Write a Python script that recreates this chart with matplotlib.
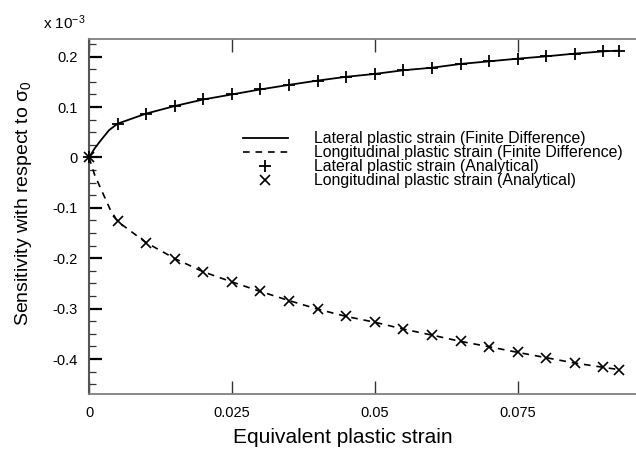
import numpy as np
import matplotlib
matplotlib.use('Agg')
import matplotlib.pyplot as plt
from matplotlib.legend_handler import HandlerLine2D
from matplotlib.ticker import FixedLocator, MultipleLocator, FuncFormatter

plt.rcParams['font.family'] = ['Liberation Sans', 'DejaVu Sans']
plt.rcParams['mathtext.fontset'] = 'custom'
plt.rcParams['mathtext.rm'] = 'Liberation Sans'
plt.rcParams['mathtext.it'] = 'Liberation Sans'
plt.rcParams['mathtext.bf'] = 'Liberation Sans:bold'

# ---- data (values in units of 1e-3) ----
strain_an = [0.0, 0.005, 0.01, 0.015, 0.02, 0.025, 0.03, 0.035, 0.04, 0.045,
             0.05, 0.055, 0.06, 0.065, 0.07, 0.075, 0.08, 0.085, 0.09, 0.0927]
lat_an = [0.0, 0.067, 0.087, 0.102, 0.115, 0.125, 0.135, 0.144, 0.1525, 0.160,
          0.1657, 0.173, 0.178, 0.1855, 0.1907, 0.196, 0.2006, 0.206, 0.2105, 0.212]
lon_an = [0.0, -0.127, -0.169, -0.2006, -0.227, -0.247, -0.266, -0.284, -0.301, -0.3155,
          -0.327, -0.3406, -0.3525, -0.365, -0.3756, -0.3868, -0.3974, -0.408, -0.4165, -0.421]

strain_fd_lat = [0.0, 0.001, 0.002, 0.0035, 0.005, 0.01, 0.015, 0.02, 0.025, 0.03, 0.035,
                 0.04, 0.045, 0.05, 0.055, 0.06, 0.065, 0.07, 0.075, 0.08, 0.085, 0.09, 0.0927]
lat_fd = [0.0, 0.018, 0.033, 0.054, 0.067, 0.087, 0.102, 0.115, 0.125, 0.135, 0.144,
          0.1525, 0.160, 0.1657, 0.173, 0.178, 0.1855, 0.1907, 0.196, 0.2006, 0.206, 0.2105, 0.212]
strain_fd_lon = [0.0, 0.001, 0.0025, 0.0037, 0.005, 0.01, 0.015, 0.02, 0.025, 0.03, 0.035,
                 0.04, 0.045, 0.05, 0.055, 0.06, 0.065, 0.07, 0.075, 0.08, 0.085, 0.09, 0.0927]
lon_fd = [0.0, -0.035, -0.073, -0.103, -0.127, -0.169, -0.2006, -0.227, -0.247, -0.266, -0.284,
          -0.301, -0.3155, -0.327, -0.3406, -0.3525, -0.365, -0.3756, -0.3868, -0.3974, -0.408,
          -0.4165, -0.421]

labels = ['Lateral plastic strain (Finite Difference)',
          'Longitudinal plastic strain (Finite Difference)',
          'Lateral plastic strain (Analytical)',
          'Longitudinal plastic strain (Analytical)']
xticks = [0, 0.025, 0.05, 0.075]
xticklabels = ['0', '0.025', '0.05', '0.075']

W, H = 636, 453
fig = plt.figure(figsize=(W / 100, H / 100), dpi=100)
left, right, top, bottom = 89, 636, 39, 394.3
ax = fig.add_axes([left / W, 1 - bottom / H, (right - left) / W, (bottom - top) / H])

l1, = ax.plot(strain_fd_lat, lat_fd, color='black', lw=1.3, label=labels[0])
l2, = ax.plot(strain_fd_lon, lon_fd, color='black', lw=1.2, linestyle=(0, (4, 3.5)), label=labels[1])
l3, = ax.plot(strain_an, lat_an, linestyle='none', marker='+', ms=9, mew=1.3, color='black',
              label=labels[2], clip_on=False, zorder=4)
l4, = ax.plot(strain_an, lon_an, linestyle='none', marker='x', ms=7.5, mew=1.2, color='black',
              label=labels[3], clip_on=False, zorder=4)

ax.set_xlim(0, 0.0957)
ax.set_ylim(-0.47, 0.235)

ax.xaxis.set_major_locator(FixedLocator(xticks))
ax.set_xticklabels(xticklabels)
ax.yaxis.set_major_locator(MultipleLocator(0.1))
ax.yaxis.set_minor_locator(MultipleLocator(0.025))

def yfmt(v, pos):
    if abs(v) < 1e-9:
        return '0'
    return ('%.1f' % v)
ax.yaxis.set_major_formatter(FuncFormatter(yfmt))

ax.tick_params(axis='x', which='major', direction='in', top=True, bottom=True,
               length=9.4, width=1.0, color='#333333', labelsize=10.5, pad=8.5)
ax.tick_params(axis='y', which='major', direction='in', left=True, right=False,
               length=9.4, width=1.6, color='black', labelsize=10.5, pad=8)
ax.tick_params(axis='y', which='minor', direction='in', left=True, right=False,
               length=5, width=0.9, color='#333333')

ax.spines['right'].set_visible(False)
ax.spines['left'].set_color('#555555')
ax.spines['left'].set_linewidth(1.5)
for s in ('top', 'bottom'):
    ax.spines[s].set_color('#808080')
    ax.spines[s].set_linewidth(1.3)

ax.set_xlabel('Equivalent plastic strain', fontsize=15)
ax.set_ylabel(r'Sensitivity with respect to $\sigma_0$', fontsize=14)
ax.xaxis.set_label_coords(0.4634, -0.095)
ax.yaxis.set_label_coords(-0.1005, 0.537)

fig.text(43 / W, 1 - 29 / H, r'x 10$^{-3}$', fontsize=11, va='baseline', ha='left')


class RightMarkerHandler(HandlerLine2D):
    def get_xdata(self, legend, xdescent, ydescent, width, height, fontsize):
        xdata, _ = super().get_xdata(legend, xdescent, ydescent, width, height, fontsize)
        return xdata, np.array([-xdescent + width])


leg = ax.legend(handles=[l1, l2, l3, l4], loc='center left', bbox_to_anchor=(0.2815, 0.660),
                frameon=False, fontsize=11.4, borderpad=0, borderaxespad=0,
                handlelength=2.84, handletextpad=1.64, labelspacing=-0.07,
                handler_map={l3: RightMarkerHandler(numpoints=1), l4: RightMarkerHandler(numpoints=1)})

fig.savefig('out.png', dpi=100)
